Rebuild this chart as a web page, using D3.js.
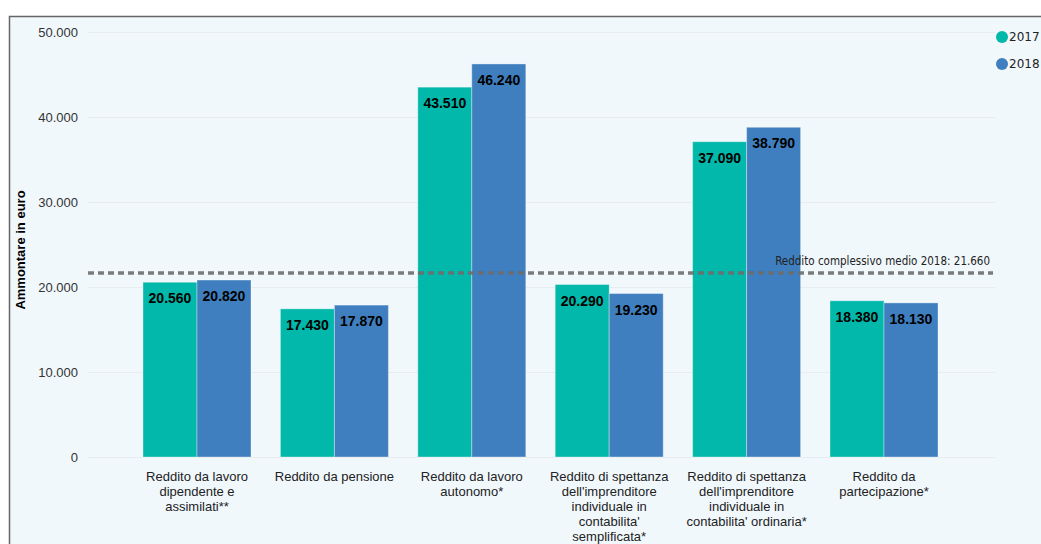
<!DOCTYPE html>
<html>
<head>
  <meta charset="utf-8">
  <style type="text/css">
    body { margin: 0; background: #fff; }
    svg { display: block; }
    .axis text { font-family: Arial, "Liberation Sans", sans-serif; font-size: 13px; fill: #333; }
    .axis path { display: none; }
    .y.axis line { stroke: #e6ecef; stroke-width: 1px; }
    .x.axis line { display: none; }
    .x.axis text { font-size: 13px; fill: #222; }
    .bar-label { font-family: Arial, "Liberation Sans", sans-serif; font-size: 14px; font-weight: bold; fill: #000; text-anchor: middle; }
    .legend text { font-family: "DejaVu Sans", sans-serif; font-size: 12px; fill: #222; }
  </style>
</head>
<body>
  <script src="https://d3js.org/d3.v7.min.js"></script>
  <script>
    // data
    var categories = [
      ["Reddito da lavoro", "dipendente e", "assimilati**"],
      ["Reddito da pensione"],
      ["Reddito da lavoro", "autonomo*"],
      ["Reddito di spettanza", "dell'imprenditore", "individuale in", "contabilita'", "semplificata*"],
      ["Reddito di spettanza", "dell'imprenditore", "individuale in", "contabilita' ordinaria*"],
      ["Reddito da", "partecipazione*"]
    ];
    var series = ["2017", "2018"];
    var values2017 = [20560, 17430, 43510, 20290, 37090, 18380];
    var values2018 = [20820, 17870, 46240, 19230, 38790, 18130];
    var yTicks = [0, 10000, 20000, 30000, 40000, 50000];
    var avgValue = 21660;
    var avgLabel = "Reddito complessivo medio 2018: 21.660";
    var colors = ["#01b8aa", "#3f7fbf"];

    var W = 1041, H = 544;
    var svg = d3.select("body").append("svg")
      .attr("width", W).attr("height", H);

    // panel frame
    svg.append("rect")
      .attr("x", 9.5).attr("y", 16.5)
      .attr("width", W + 10).attr("height", H + 10)
      .attr("fill", "#f1f8fc")
      .attr("stroke", "#666").attr("stroke-width", 1.5);

    var fmt = function(v) { return d3.format(",")(v).replace(/,/g, "."); };

    var y = d3.scaleLinear().domain([0, 50000]).range([457, 32]);
    var x0 = d3.scaleBand().domain(d3.range(categories.length))
      .range([128.3, 952.7]).paddingInner(0.214).paddingOuter(0.107);
    var x1 = d3.scaleBand().domain(series).range([0, x0.bandwidth()]);

    var gridLeft = 88, gridRight = 995;

    // y axis with grid
    var yAxis = d3.axisLeft(y).tickValues(yTicks)
      .tickSize(-(gridRight - gridLeft)).tickPadding(10)
      .tickFormat(fmt);
    svg.append("g").attr("class", "y axis")
      .attr("transform", "translate(" + gridLeft + ",0)")
      .call(yAxis);

    // y title
    svg.append("text")
      .attr("transform", "translate(25,250) rotate(-90)")
      .attr("text-anchor", "middle")
      .style("font-family", "Arial, 'Liberation Sans', sans-serif")
      .style("font-size", "13px").style("font-weight", "bold").style("fill", "#000")
      .text("Ammontare in euro");

    // x axis
    var xAxis = d3.axisBottom(x0).tickSize(0).tickPadding(0).tickFormat("");
    var xg = svg.append("g").attr("class", "x axis")
      .attr("transform", "translate(0,457)")
      .call(xAxis);
    xg.selectAll(".tick text").remove();
    xg.selectAll(".tick").each(function(d) {
      var t = d3.select(this).append("text")
        .attr("text-anchor", "middle").attr("y", 24);
      categories[d].forEach(function(line, i) {
        t.append("tspan").attr("x", 0).attr("dy", i === 0 ? 0 : 15).text(line);
      });
    });

    // bars
    var rows = categories.map(function(c, i) {
      return [{s: "2017", v: values2017[i], c: colors[0]}, {s: "2018", v: values2018[i], c: colors[1]}];
    });
    var groups = svg.selectAll(".grp").data(rows).enter().append("g")
      .attr("class", "grp")
      .attr("transform", function(d, i) { return "translate(" + x0(i) + ",0)"; });

    groups.selectAll("rect").data(function(d) { return d; }).enter().append("rect")
      .attr("x", function(d) { return x1(d.s); })
      .attr("y", function(d) { return y(d.v); })
      .attr("width", x1.bandwidth())
      .attr("height", function(d) { return y(0) - y(d.v); })
      .attr("fill", function(d) { return d.c; })
      .attr("stroke", "rgba(255,255,255,0.35)").attr("stroke-width", 1);

    groups.selectAll("text").data(function(d) { return d; }).enter().append("text")
      .attr("class", "bar-label")
      .attr("x", function(d) { return x1(d.s) + x1.bandwidth() / 2; })
      .attr("y", function(d) { return y(d.v) + 21; })
      .text(function(d) { return fmt(d.v); });

    // average line
    svg.append("line")
      .attr("x1", gridLeft).attr("x2", gridRight - 2)
      .attr("y1", y(avgValue)).attr("y2", y(avgValue))
      .attr("stroke", "#6e6e6e").attr("stroke-width", 3.5)
      .attr("stroke-dasharray", "6,4")
      .attr("opacity", 0.9);
    svg.append("text")
      .attr("x", 990).attr("y", y(avgValue) - 8)
      .attr("text-anchor", "end")
      .style("font-family", "'DejaVu Sans Condensed', 'DejaVu Sans', sans-serif")
      .style("font-size", "11.5px").style("fill", "#222")
      .text(avgLabel);

    // legend
    var legend = svg.selectAll(".legend").data(series).enter().append("g")
      .attr("class", "legend")
      .attr("transform", function(d, i) { return "translate(1002," + (37 + i * 27) + ")"; });
    legend.append("circle").attr("r", 6).attr("fill", function(d, i) { return colors[i]; });
    legend.append("text").attr("x", 7).attr("dy", "0.35em").text(function(d) { return d; });
  </script>
</body>
</html>
